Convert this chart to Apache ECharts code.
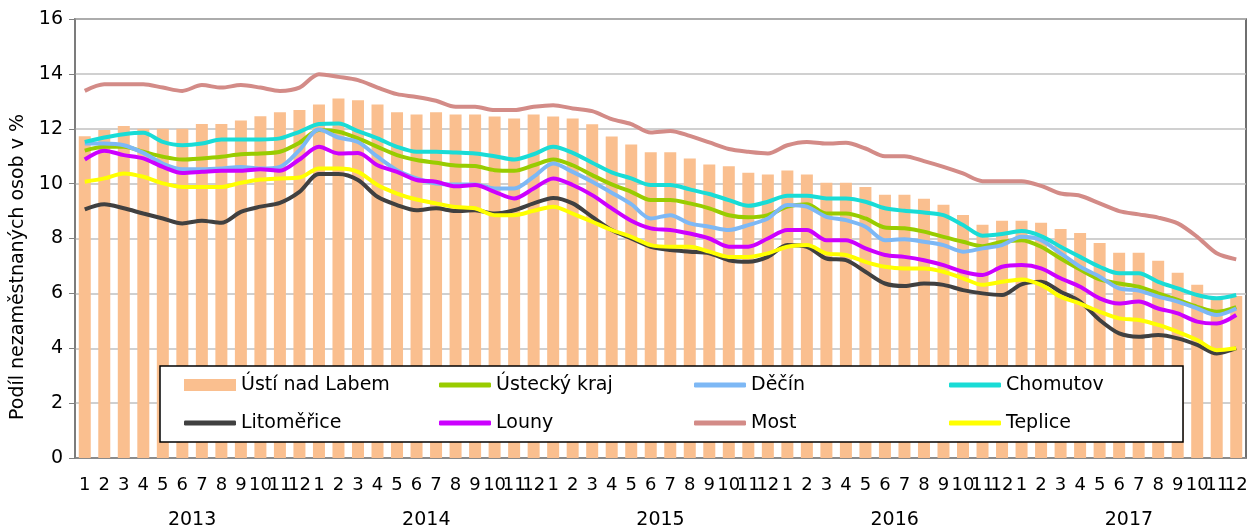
<!DOCTYPE html>
<html>
<head>
<meta charset="utf-8">
<script src="https://cdn.jsdelivr.net/npm/echarts@6/dist/echarts.min.js"></script>
<style>
  html, body { margin: 0; padding: 0; background: #fff; }
  #chartDiv { width: 1251px; height: 531px; }
</style>
</head>
<body>
<div id="chartDiv"></div>
<script>
// osa x: měsíce a roky
var years = ['2013', '2014', '2015', '2016', '2017'];
var months = ['1','2','3','4','5','6','7','8','9','10','11','12'];
var yTicks = [0, 2, 4, 6, 8, 10, 12, 14, 16];

// podíl nezaměstnaných osob v %
var ustiNadLabem = [11.73, 11.95, 12.1, 12.0, 12.0, 12.0, 12.17, 12.17, 12.3, 12.46, 12.6, 12.68,
    12.88, 13.1, 13.04, 12.88, 12.6, 12.52, 12.6, 12.52, 12.52, 12.45, 12.37, 12.52,
    12.45, 12.37, 12.16, 11.72, 11.43, 11.14, 11.14, 10.92, 10.7, 10.63, 10.4, 10.33,
    10.48, 10.33, 10.03, 10.03, 9.88, 9.59, 9.59, 9.45, 9.23, 8.86, 8.5, 8.65,
    8.65, 8.57, 8.35, 8.2, 7.84, 7.48, 7.48, 7.19, 6.75, 6.31, 5.8, 5.9];
var usteckyKraj = [11.2, 11.34, 11.34, 11.16, 10.98, 10.88, 10.92, 10.98, 11.07, 11.1, 11.16, 11.49,
    11.95, 11.89, 11.65, 11.34, 11.04, 10.86, 10.76, 10.66, 10.64, 10.49, 10.47, 10.67,
    10.88, 10.67, 10.31, 9.97, 9.7, 9.4, 9.4, 9.28, 9.1, 8.85, 8.77, 8.85,
    9.16, 9.25, 8.91, 8.91, 8.73, 8.4, 8.37, 8.25, 8.06, 7.88, 7.72, 7.88,
    7.94, 7.7, 7.27, 6.87, 6.51, 6.36, 6.24, 6.0, 5.76, 5.51, 5.33, 5.5];
var decin = [11.46, 11.46, 11.4, 11.12, 10.73, 10.52, 10.52, 10.55, 10.61, 10.55, 10.61, 11.22,
    11.97, 11.68, 11.52, 10.98, 10.49, 10.19, 10.0, 9.97, 9.97, 9.82, 9.82, 10.25,
    10.73, 10.43, 10.07, 9.67, 9.25, 8.73, 8.85, 8.55, 8.43, 8.31, 8.49, 8.73,
    9.22, 9.16, 8.79, 8.67, 8.43, 7.94, 7.97, 7.88, 7.76, 7.52, 7.64, 7.76,
    8.06, 7.94, 7.46, 6.97, 6.61, 6.18, 6.1, 5.88, 5.7, 5.45, 5.21, 5.45];
var chomutov = [11.52, 11.68, 11.8, 11.85, 11.52, 11.4, 11.46, 11.61, 11.61, 11.61, 11.65, 11.89,
    12.17, 12.19, 11.91, 11.65, 11.34, 11.16, 11.16, 11.13, 11.1, 11.0, 10.88, 11.07,
    11.34, 11.12, 10.76, 10.41, 10.19, 9.95, 9.95, 9.79, 9.62, 9.4, 9.19, 9.34,
    9.56, 9.56, 9.46, 9.46, 9.34, 9.1, 9.01, 8.95, 8.85, 8.49, 8.1, 8.16,
    8.27, 8.09, 7.7, 7.33, 6.97, 6.73, 6.73, 6.42, 6.18, 5.94, 5.82, 5.94];
var litomerice = [9.06, 9.25, 9.1, 8.91, 8.73, 8.55, 8.65, 8.57, 8.97, 9.16, 9.3, 9.7,
    10.35, 10.35, 10.13, 9.52, 9.22, 9.03, 9.1, 9.0, 9.03, 8.91, 9.03, 9.28,
    9.48, 9.28, 8.79, 8.31, 8.0, 7.7, 7.58, 7.52, 7.46, 7.21, 7.15, 7.33,
    7.76, 7.7, 7.27, 7.21, 6.79, 6.36, 6.27, 6.36, 6.31, 6.12, 6.0, 5.94,
    6.33, 6.42, 6.06, 5.7, 5.03, 4.54, 4.42, 4.48, 4.36, 4.12, 3.81, 4.0];
var louny = [10.88, 11.2, 11.04, 10.92, 10.61, 10.39, 10.43, 10.47, 10.47, 10.52, 10.47, 10.88,
    11.34, 11.1, 11.12, 10.67, 10.43, 10.13, 10.07, 9.9, 9.95, 9.7, 9.46, 9.82,
    10.19, 9.95, 9.58, 9.1, 8.65, 8.37, 8.31, 8.18, 8.0, 7.7, 7.7, 8.0,
    8.31, 8.31, 7.94, 7.94, 7.64, 7.4, 7.33, 7.21, 7.03, 6.79, 6.67, 6.97,
    7.03, 6.91, 6.55, 6.24, 5.82, 5.63, 5.7, 5.45, 5.27, 4.97, 4.9, 5.21];
var most = [13.38, 13.62, 13.62, 13.62, 13.5, 13.38, 13.59, 13.5, 13.59, 13.5, 13.38, 13.5,
    13.99, 13.89, 13.77, 13.5, 13.26, 13.16, 13.02, 12.8, 12.8, 12.68, 12.68, 12.8,
    12.86, 12.74, 12.64, 12.35, 12.17, 11.86, 11.92, 11.74, 11.5, 11.26, 11.16, 11.1,
    11.4, 11.52, 11.46, 11.49, 11.28, 11.0, 11.0, 10.82, 10.61, 10.37, 10.09, 10.09,
    10.09, 9.92, 9.64, 9.56, 9.28, 9.0, 8.88, 8.76, 8.55, 8.06, 7.46, 7.24];
var teplice = [10.07, 10.19, 10.37, 10.25, 10.01, 9.88, 9.88, 9.88, 10.03, 10.15, 10.19, 10.22,
    10.55, 10.55, 10.43, 9.95, 9.64, 9.42, 9.28, 9.15, 9.1, 8.85, 8.85, 9.01,
    9.16, 8.91, 8.61, 8.31, 8.06, 7.76, 7.7, 7.7, 7.52, 7.33, 7.33, 7.46,
    7.7, 7.76, 7.46, 7.4, 7.15, 6.97, 6.91, 6.91, 6.79, 6.55, 6.31, 6.42,
    6.51, 6.31, 5.88, 5.63, 5.33, 5.09, 5.03, 4.85, 4.6, 4.3, 3.93, 4.0];

var lineNames = ['Ústecký kraj', 'Děčín', 'Chomutov', 'Litoměřice', 'Louny', 'Most', 'Teplice'];
var lineData = [usteckyKraj, decin, chomutov, litomerice, louny, most, teplice];
var lineColors = ['#99CC00', '#7DB8F5', '#19DCD6', '#404040', '#CC00FF', '#D38B87', '#FFFF00'];

var monthCats = [];
years.forEach(function (y) {
    months.forEach(function (m) { monthCats.push(m); });
});

var font = 'DejaVu Sans';

var series = [{
    name: 'Ústí nad Labem',
    type: 'bar',
    xAxisIndex: 0,
    barWidth: 12,
    itemStyle: { color: '#FABF8F' },
    data: ustiNadLabem,
    z: 1
}];
lineNames.forEach(function (n, i) {
    series.push({
        name: n,
        type: 'line',
        xAxisIndex: 0,
        symbol: 'none',
        smooth: 0.3,
        lineStyle: { width: 4, color: lineColors[i] },
        itemStyle: { color: lineColors[i] },
        data: lineData[i],
        z: 2 + i
    });
});

// legenda: 2 řádky po 4 položkách
var legendOrder = ['Ústí nad Labem', 'Ústecký kraj', 'Děčín', 'Chomutov',
                   'Litoměřice', 'Louny', 'Most', 'Teplice'];
var legendCols = [184, 439, 694, 949];
var legendRows = [374, 412];
var legends = legendOrder.map(function (n, i) {
    var isBar = i === 0;
    return {
        data: [{ name: n, icon: isBar ? 'rect' : 'roundRect' }],
        left: legendCols[i % 4],
        top: legendRows[Math.floor(i / 4)],
        padding: 0,
        itemWidth: 52,
        itemHeight: isBar ? 12 : 5,
        selectedMode: false,
        z: 20,
        textStyle: { fontFamily: font, fontSize: 19, color: '#000', lineHeight: 22 }
    };
});

var chart = echarts.init(document.getElementById('chartDiv'));

var option = {
    animation: false,
    backgroundColor: '#fff',
    grid: {
        left: 75, right: 5, top: 19, bottom: 73,
        show: true,
        borderColor: '#404040',
        borderWidth: 1.5
    },
    legend: legends,
    graphic: [{
        type: 'rect',
        z: 15,
        shape: { x: 160, y: 366, width: 1023, height: 76 },
        style: { fill: '#fff', stroke: '#000', lineWidth: 1.5 }
    }, {
        type: 'text',
        z: 15,
        x: 18,
        y: 267,
        rotation: Math.PI / 2,
        style: {
            text: 'Podíl nezaměstnaných osob v %',
            fontFamily: font,
            fontSize: 19,
            fill: '#000',
            align: 'center',
            verticalAlign: 'middle'
        }
    }],
    xAxis: [{
        type: 'category',
        data: monthCats,
        position: 'bottom',
        boundaryGap: true,
        axisLine: { lineStyle: { color: '#808080', width: 1.5 } },
        axisTick: { length: 46, interval: 0, lineStyle: { color: '#808080' } },
        axisLabel: { interval: 0, margin: 18, fontFamily: font, fontSize: 18, color: '#000' }
    }, {
        type: 'category',
        data: years,
        position: 'bottom',
        boundaryGap: true,
        axisLine: { show: false },
        axisTick: { length: 75, lineStyle: { color: '#808080' } },
        axisLabel: { margin: 53, fontFamily: font, fontSize: 19, color: '#000' }
    }],
    yAxis: {
        type: 'value',
        min: yTicks[0],
        max: yTicks[yTicks.length - 1],
        interval: 2,
        axisLine: { show: true, lineStyle: { color: '#808080', width: 1.5 } },
        axisTick: { show: true, length: 6, lineStyle: { color: '#808080' } },
        axisLabel: { margin: 12, fontFamily: font, fontSize: 19, color: '#000' },
        splitLine: { lineStyle: { color: '#C0C0C0', width: 1.5 } }
    },
    series: series
};

chart.setOption(option);
</script>
</body>
</html>
